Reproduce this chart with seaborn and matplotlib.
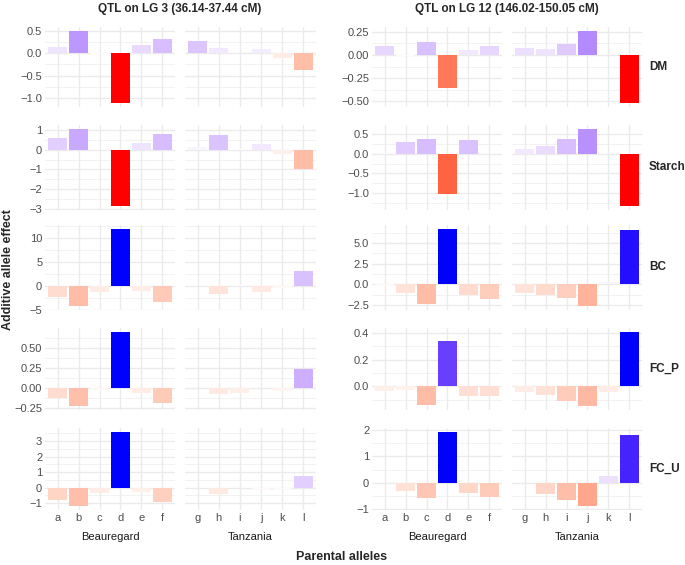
import numpy as np
import pandas as pd
import matplotlib
matplotlib.use('Agg')
import matplotlib.pyplot as plt
import seaborn as sns

# ---- data ----
traits = ['DM', 'Starch', 'BC', 'FC_P', 'FC_U']
beau_alleles = ['a', 'b', 'c', 'd', 'e', 'f']
tanz_alleles = ['g', 'h', 'i', 'j', 'k', 'l']
qtl_titles = ['QTL on LG 3 (36.14-37.44 cM)', 'QTL on LG 12 (146.02-150.05 cM)']

# LG 3, alleles a..l
lg3_dm     = [0.13, 0.50, -0.01, -1.12, 0.18, 0.31, 0.28, 0.11, 0.0, 0.09, -0.11, -0.38]
lg3_starch = [0.60, 1.05, 0.0, -2.85, 0.33, 0.80, 0.12, 0.73, 0.02, 0.28, -0.22, -1.0]
lg3_bc     = [-2.2, -4.2, -1.2, 12.0, -1.1, -3.3, 0.0, -1.7, 0.3, -1.3, -0.4, 3.2]
lg3_fcp    = [-0.13, -0.23, -0.03, 0.70, -0.07, -0.19, 0.0, -0.08, -0.06, 0.0, -0.04, 0.24]
lg3_fcu    = [-0.80, -1.20, -0.35, 3.60, -0.30, -0.90, 0.0, -0.40, -0.05, -0.10, -0.10, 0.75]

# LG 12, alleles a..l
lg12_dm     = [0.09, -0.01, 0.14, -0.35, 0.05, 0.09, 0.07, 0.06, 0.12, 0.26, 0.0, -0.52]
lg12_starch = [0.03, 0.30, 0.38, -1.02, 0.35, 0.0, 0.13, 0.20, 0.37, 0.63, 0.0, -1.33]
lg12_bc     = [-0.2, -1.0, -2.35, 6.7, -1.25, -1.75, -1.0, -1.3, -1.7, -2.65, 0.3, 6.55]
lg12_fcp    = [-0.035, -0.03, -0.14, 0.34, -0.07, -0.07, -0.04, -0.065, -0.11, -0.15, -0.04, 0.41]
lg12_fcu    = [-0.02, -0.30, -0.57, 1.92, -0.40, -0.52, -0.02, -0.42, -0.65, -0.88, 0.25, 1.78]

# y breaks per panel row
lg3_ticks = [[0.5, 0.0, -0.5, -1.0], [1, 0, -1, -2, -3], [10, 5, 0, -5],
             [0.5, 0.25, 0.0, -0.25], [3, 2, 1, 0, -1]]
lg12_ticks = [[0.25, 0.0, -0.25, -0.5], [0.5, 0.0, -0.5, -1.0], [5.0, 2.5, 0.0, -2.5],
              [0.4, 0.2, 0.0], [2, 1, 0, -1]]
lg3_digits = [1, 0, 0, 2, 0]
lg12_digits = [2, 1, 1, 1, 0]

rows = []
for qtl, vals in [('LG3', [lg3_dm, lg3_starch, lg3_bc, lg3_fcp, lg3_fcu]),
                  ('LG12', [lg12_dm, lg12_starch, lg12_bc, lg12_fcp, lg12_fcu])]:
    for trait, v in zip(traits, vals):
        for allele, e in zip(beau_alleles + tanz_alleles, v):
            parent = 'Beauregard' if allele in beau_alleles else 'Tanzania'
            rows.append((qtl, trait, parent, allele, e))
df = pd.DataFrame(rows, columns=['qtl', 'trait', 'parent', 'allele', 'effect'])


# ---- red / white / blue diverging fill, interpolated in Lab ----
def to_lab(rgb):
    rgb = np.asarray(rgb, float)
    lin = np.where(rgb <= 0.04045, rgb / 12.92, ((rgb + 0.055) / 1.055) ** 2.4)
    M = np.array([[0.4124, 0.3576, 0.1805], [0.2126, 0.7152, 0.0722], [0.0193, 0.1192, 0.9505]])
    t = (M @ lin) / np.array([0.95047, 1.0, 1.08883])
    f = np.where(t > (6 / 29) ** 3, np.cbrt(t), t / (3 * (6 / 29) ** 2) + 4 / 29)
    return np.array([116 * f[1] - 16, 500 * (f[0] - f[1]), 200 * (f[1] - f[2])])


def from_lab(lab):
    L, a, b = lab
    fy = (L + 16) / 116
    f = np.array([fy + a / 500, fy, fy - b / 200])
    t = np.where(f > 6 / 29, f ** 3, 3 * (6 / 29) ** 2 * (f - 4 / 29))
    xyz = t * np.array([0.95047, 1.0, 1.08883])
    Minv = np.array([[3.2406, -1.5372, -0.4986], [-0.9689, 1.8758, 0.0415], [0.0557, -0.2040, 1.0570]])
    lin = Minv @ xyz
    rgb = np.where(lin <= 0.0031308, 12.92 * lin, 1.055 * np.clip(lin, 0, None) ** (1 / 2.4) - 0.055)
    return tuple(np.clip(rgb, 0, 1))


LAB_W, LAB_R, LAB_B = to_lab([1, 1, 1]), to_lab([1, 0, 0]), to_lab([0, 0, 1])


def fill(s):
    end = LAB_R if s < 0 else LAB_B
    s = min(abs(s), 1.0)
    return from_lab(LAB_W + (end - LAB_W) * s)


# ---- figure ----
W, H = 685, 565
fig = plt.figure(figsize=(W / 100, H / 100), dpi=100)
sns.set_style('white')
plt.rcParams['font.family'] = ['Liberation Sans', 'DejaVu Sans']

def px(x0, y0, x1, y1):
    return [x0 / W, 1 - y1 / H, (x1 - x0) / W, (y1 - y0) / H]

col_x = {'LG3': [(45, 175), (185, 316)], 'LG12': [(372, 502), (512, 642)]}
row_y = [(27, 107), (125, 210), (225, 310), (328, 410), (428, 510)]
tick_col = '#4d4d4d'

for qtl, ticks_all, digits_all in [('LG3', lg3_ticks, lg3_digits), ('LG12', lg12_ticks, lg12_digits)]:
    for r, trait in enumerate(traits):
        sub_t = df[(df.qtl == qtl) & (df.trait == trait)]
        maxabs = sub_t.effect.abs().max()
        lo, hi = min(0, sub_t.effect.min()), max(0, sub_t.effect.max())
        pad = 0.05 * (hi - lo)
        ticks = ticks_all[r]
        step = abs(ticks[0] - ticks[1])
        minor = [t + step / 2 for t in [ticks[0] + step] + ticks + [ticks[-1] - step]]
        for c, (parent, alleles) in enumerate([('Beauregard', beau_alleles), ('Tanzania', tanz_alleles)]):
            sub = sub_t[sub_t.parent == parent]
            pal = {a: fill(e / maxabs) for a, e in zip(sub.allele, sub.effect)}
            x0, x1 = col_x[qtl][c]
            y0, y1 = row_y[r]
            ax = fig.add_axes(px(x0, y0, x1, y1))
            ax.set_axisbelow(True)
            for m in minor:
                ax.axhline(m, color='#f0f0f0', lw=0.6, zorder=0)
            for t in ticks:
                ax.axhline(t, color='#ebebeb', lw=1.0, zorder=0)
            for i in range(6):
                ax.axvline(i, color='#ebebeb', lw=1.0, zorder=0)
            sns.barplot(data=sub, x='allele', y='effect', hue='allele', order=alleles,
                        hue_order=alleles, palette=pal, legend=False, width=0.9,
                        saturation=1, ax=ax, linewidth=0, zorder=2)
            ax.set_xlim(-0.6, 5.6)
            ax.set_ylim(lo - pad, hi + pad)
            ax.set_yticks(ticks)
            ax.set_xlabel('')
            ax.set_ylabel('')
            for s in ax.spines.values():
                s.set_visible(False)
            ax.tick_params(length=0, pad=2, labelsize=8, colors=tick_col)
            if c == 0:
                d = digits_all[r]
                ax.set_yticklabels([f'{t:.{d}f}'.replace('-', '\u2212') for t in ticks])
            else:
                ax.set_yticklabels([])
            if r < 4:
                ax.set_xticklabels([])
            else:
                ax.set_xticklabels(alleles)
                ax.text(0.5, -0.27, parent, transform=ax.transAxes, ha='center', va='top',
                        fontsize=8, color='#1a1a1a')
            if qtl == 'LG12' and c == 1:
                ax.text(649 / W, 1 - (y0 + y1) / 2 / H, trait, transform=fig.transFigure,
                        ha='left', va='center', fontsize=8.5, fontweight='bold')

fig.text(180 / W, 1 - 9 / H, qtl_titles[0], ha='center', va='center', fontsize=8.5, fontweight='bold')
fig.text(507 / W, 1 - 9 / H, qtl_titles[1], ha='center', va='center', fontsize=8.5, fontweight='bold')
fig.text(8 / W, 1 - 270 / H, 'Additive allele effect', rotation=90, ha='center', va='center',
         fontsize=9, fontweight='bold')
fig.text(342 / W, 1 - 557 / H, 'Parental alleles', ha='center', va='center', fontsize=9, fontweight='bold')

fig.savefig('out.png', dpi=100)
